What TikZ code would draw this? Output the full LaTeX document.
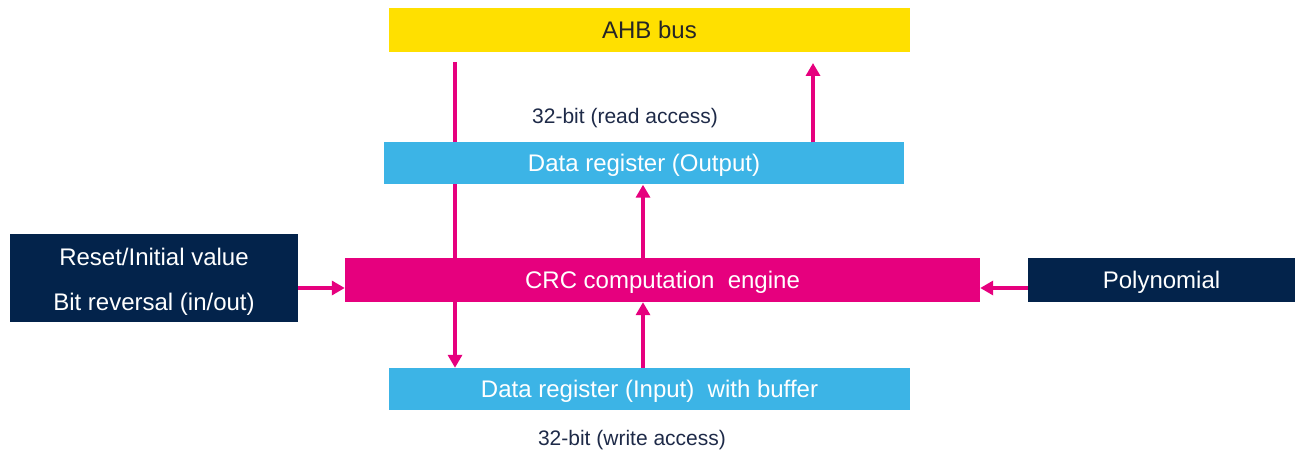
\documentclass[tikz,border=0pt]{standalone}
\usepackage{fontspec}
\setmainfont{Liberation Sans}
\usetikzlibrary{arrows.meta,backgrounds}
\definecolor{styellow}{HTML}{FFE000}
\definecolor{stblue}{HTML}{3CB4E6}
\definecolor{stpink}{HTML}{E6007E}
\definecolor{stnavy}{HTML}{03234B}
\definecolor{labtxt}{HTML}{1E2A48}
\newcommand{\lowtxt}[1]{\raisebox{-4pt}[\height][\depth]{#1}}
\tikzset{
  basebox/.style={draw=none, inner sep=0pt, text=white,
    font=\fontsize{24}{28}\selectfont},
  box/.style={basebox, text height=17pt, text depth=0pt},
  ybox/.style={box, fill=styellow, text=black!85},
  bbox/.style={box, fill=stblue},
  pbox/.style={box, fill=stpink},
  nbox/.style={box, fill=stnavy},
  lab/.style={inner sep=0pt, text=labtxt, text height=15pt, text depth=0pt,
    font=\fontsize{21}{24}\selectfont},
  conn/.style={draw=stpink, line width=3.6pt, -{Triangle[length=13pt,width=14pt]}}
}
\begin{document}
\begin{tikzpicture}[x=1pt,y=-1pt]
\useasboundingbox (0,0) rectangle (1298,454);
\node[ybox, minimum width=521pt, minimum height=44pt] (ahb) at (649.5,30) {AHB bus};
\node[bbox, minimum width=520pt, minimum height=42pt] (out) at (644,163.5) {Data register (Output)};
\node[pbox, minimum width=635pt, minimum height=44pt] (crc) at (662.5,280) {CRC computation\ \ engine};
\node[bbox, minimum width=521pt, minimum height=42pt] (in) at (649.5,389) {Data register (Input)\ \ with buffer};
\node[basebox, fill=stnavy, minimum width=288pt, minimum height=87pt, align=center,
  font=\fontsize{24}{45}\selectfont] (reset) at (154,278)
  {\lowtxt{Reset/Initial value}\\\lowtxt{Bit reversal (in/out)}};
\node[nbox, minimum width=267pt, minimum height=44pt] (poly) at (1161.5,280) {Polynomial};
\node[lab] (rd) at (625,116) {32-bit (read access)};
\node[lab] (wr) at (632,438) {32-bit (write access)};
\coordinate (tapL) at (455,62);
\coordinate (upR) at (813,63);
\coordinate (xa) at (643,0);
\coordinate (ya) at (0,288);
\begin{scope}[on background layer]
\draw[conn] (tapL) -- (in.north -| tapL);
\end{scope}
\draw[conn] (out.north -| upR) -- (upR);
\draw[conn] (crc.north -| xa) -- (out.south -| xa);
\draw[conn] (in.north -| xa) -- (crc.south -| xa);
\draw[conn] (reset.east |- ya) -- (crc.west |- ya);
\draw[conn] (poly.west |- ya) -- (crc.east |- ya);
\end{tikzpicture}
\end{document}
